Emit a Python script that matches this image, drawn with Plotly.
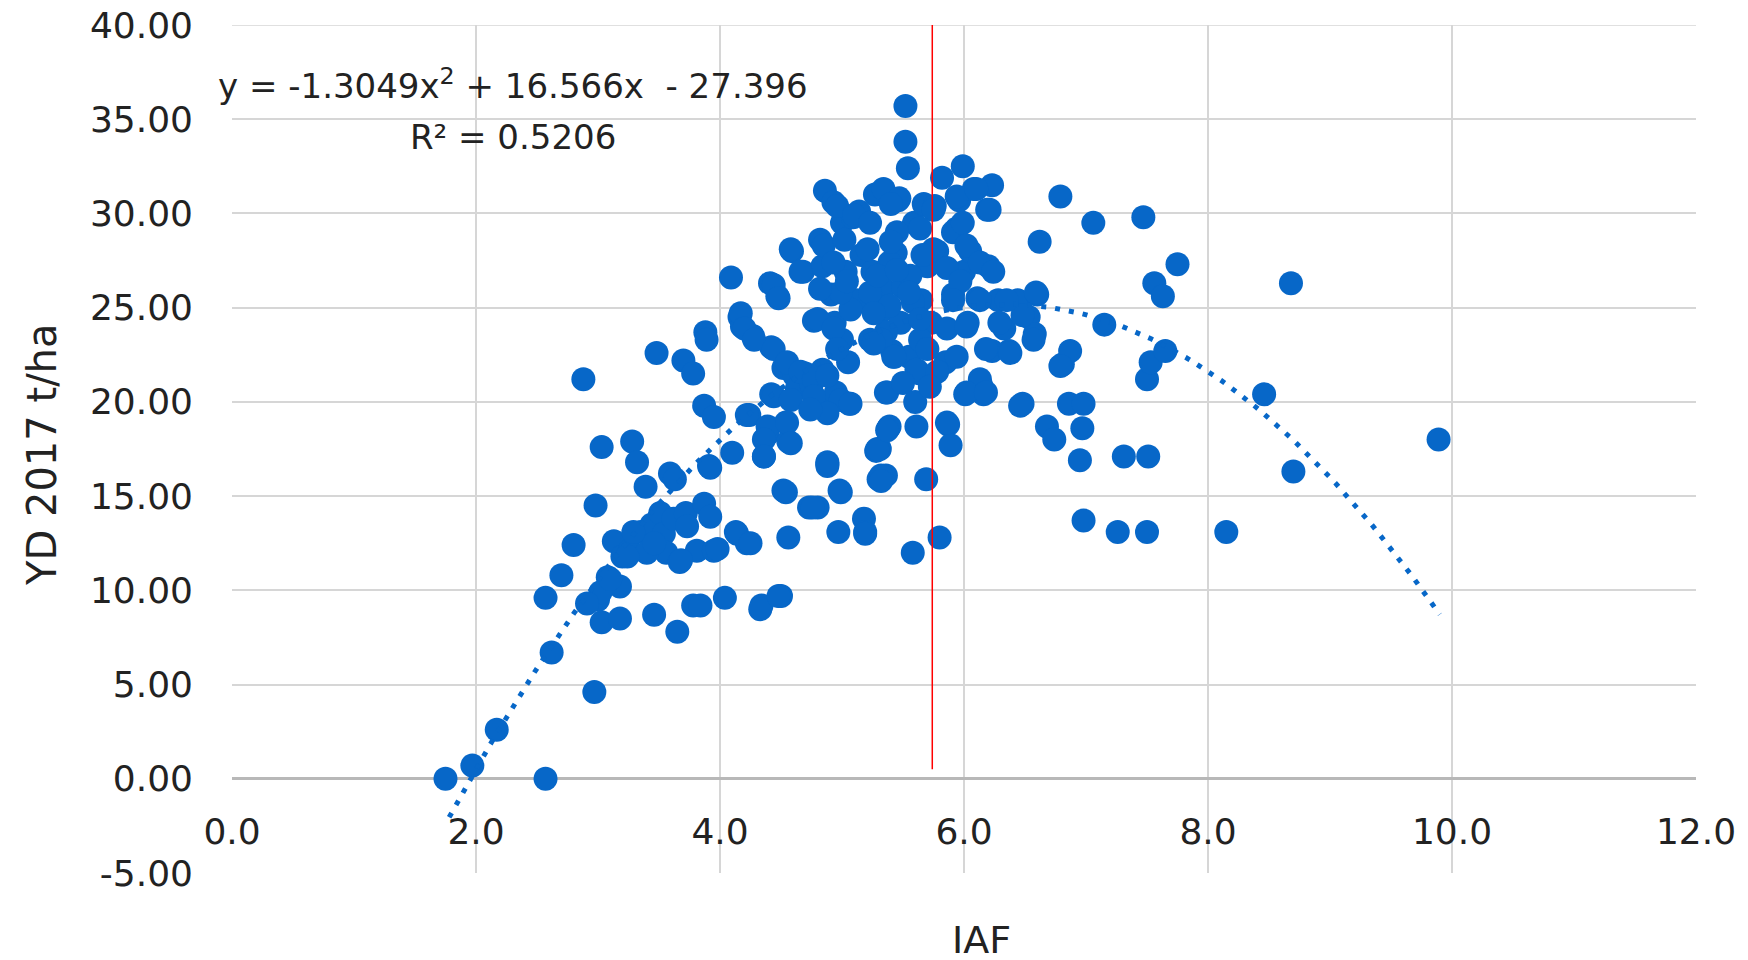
import numpy as np
import plotly.graph_objects as go

# ---- data ----
iaf = [
    1.75, 1.97, 2.17, 2.57, 2.62, 2.57, 2.70, 2.80, 2.88, 2.97, 2.98, 3.03, 3.00, 3.03, 3.08, 3.13, 3.18, 3.18, 3.20, 3.26,
    3.28, 3.32, 3.39, 3.35, 3.44, 3.48, 3.46, 3.51, 3.54, 3.56, 3.59, 3.63, 3.62, 3.65, 3.67, 3.70, 3.72, 3.78, 3.78, 3.81,
    3.84, 3.87, 3.88, 3.87, 3.92, 3.91, 3.95, 3.95, 3.98, 3.40, 3.24, 3.46, 3.68, 3.02, 2.91, 3.10, 3.29, 3.73, 3.92, 3.89,
    4.04, 4.09, 4.10, 4.13, 4.16, 4.18, 4.22, 4.24, 4.27, 4.34, 4.36, 4.39, 4.41, 4.42, 4.42, 4.47, 4.50, 4.52, 4.52, 4.54,
    4.56, 4.56, 4.59, 4.61, 4.63, 4.68, 4.70, 4.73, 4.75, 4.77, 4.79, 4.80, 4.82, 4.84, 4.84, 4.86, 4.86, 4.88, 4.91, 4.93,
    4.94, 4.95, 4.97, 4.98, 5.00, 5.00, 5.03, 5.05, 5.06, 5.09, 5.12, 5.14, 5.16, 5.18, 5.19, 5.23, 5.25, 5.27, 5.28, 5.30,
    5.32, 5.34, 5.37, 5.38, 5.41, 5.44, 5.46, 5.48, 5.50, 5.52, 5.52, 5.54, 5.55, 5.58, 5.59, 5.61, 5.64, 5.65, 5.67, 5.69,
    5.70, 5.73, 5.76, 5.78, 5.80, 5.82, 5.85, 5.87, 5.89, 5.91, 5.94, 5.96, 5.99, 6.00, 6.01, 6.03, 6.05, 6.08, 6.11, 6.14,
    6.16, 6.19, 6.20, 6.23, 6.23, 6.28, 6.33, 6.37, 6.44, 6.48, 6.53, 6.58, 6.60, 6.62, 6.68, 6.74, 6.79, 6.81, 6.86, 6.87,
    6.95, 6.97, 6.98, 6.98, 7.06, 7.15, 7.26, 7.31, 7.47, 7.50, 7.50, 7.51, 7.53, 7.56, 7.63, 7.65, 7.75, 8.15, 8.46, 8.68,
    8.70, 9.89,
    5.34, 5.47, 5.75, 5.94, 6.10, 6.21, 5.45, 5.64, 5.75, 5.91, 5.99, 6.02, 5.86, 6.13, 6.24, 5.39, 5.56, 5.97, 6.59, 6.48,
    6.57, 6.79, 6.46, 6.13, 6.02, 6.18, 5.36, 5.39, 5.86, 5.31, 5.36, 5.91, 6.13, 6.35, 5.58, 5.39, 5.86, 6.18, 6.38, 5.94,
    5.61, 5.42, 5.64, 5.36, 6.02, 6.29, 4.44, 4.48, 4.17, 4.20, 4.28, 4.44, 4.55, 4.66, 4.77, 4.88, 4.77, 4.44, 4.58, 4.99,
    5.07, 4.88, 4.74, 4.80, 4.93, 4.96, 5.07, 4.99, 4.82, 5.23, 5.26, 5.32, 5.43, 5.26, 4.22, 4.39, 4.55, 4.36, 4.58, 4.36,
    4.88, 5.29, 5.37, 5.32, 4.96, 5.10, 5.23, 5.40, 4.58, 4.85, 5.02, 4.93, 5.21, 5.40, 4.66, 5.04, 5.29, 4.88, 5.32, 4.54,
    4.99, 4.76, 4.14, 4.25, 4.33, 4.48, 5.19, 5.64, 5.55, 5.70, 5.78, 5.50, 5.60, 5.72, 5.45, 5.66,
]
yd_2017 = [
    0.0, 0.7, 2.6, 0.0, 6.7, 9.6, 10.8, 12.4, 21.2, 4.6, 14.5, 17.6, 9.5, 8.3, 10.7, 12.6, 10.2, 8.5, 11.8, 12.1,
    17.9, 16.8, 15.5, 13.1, 13.5, 22.6, 8.7, 14.1, 13.0, 12.0, 16.2, 15.9, 13.8, 7.8, 11.5, 22.2, 14.1, 21.5, 9.2, 12.1,
    9.2, 14.6, 23.7, 19.8, 13.9, 16.6, 19.2, 12.1, 12.2, 12.0, 11.8, 12.5, 11.6, 9.9, 9.3, 10.6, 13.1, 13.4, 16.5, 23.3,
    9.6, 26.6, 17.3, 13.1, 24.5, 24.0, 12.5, 19.3, 23.5, 9.2, 17.1, 18.3, 26.3, 22.9, 20.4, 25.6, 9.7, 15.3, 21.8, 18.9,
    17.9, 12.8, 28.0, 21.4, 20.7, 26.9, 21.5, 14.4, 20.9, 24.3, 19.9, 14.4, 28.6, 27.2, 21.7, 31.2, 19.6, 16.7, 25.7, 30.6,
    24.2, 20.5, 13.1, 15.3, 23.3, 29.5, 26.9, 22.1, 19.9, 29.8, 25.4, 30.1, 27.8, 13.8, 13.1, 23.3, 26.9, 31.0, 17.4, 15.9,
    24.8, 26.0, 20.5, 18.6, 22.7, 27.9, 30.7, 24.2, 26.1, 35.7, 33.8, 32.4, 22.4, 12.0, 29.5, 18.7, 21.5, 25.4, 30.5, 15.9,
    27.2, 24.2, 30.4, 28.0, 12.8, 31.9, 22.1, 18.8, 17.7, 25.7, 29.2, 30.7, 32.5, 26.9, 20.4, 24.2, 28.0, 31.3, 25.5, 20.9,
    20.4, 30.2, 27.2, 31.5, 22.7, 25.4, 23.9, 22.7, 25.4, 19.9, 24.5, 23.6, 25.7, 28.5, 18.7, 18.0, 30.9, 22.0, 19.9, 22.7,
    16.9, 18.6, 19.9, 13.7, 29.5, 24.1, 13.1, 17.1, 29.8, 21.2, 13.1, 17.1, 22.1, 26.3, 25.6, 22.7, 27.3, 13.1, 20.4, 26.3,
    16.3, 18.0,
    31.3, 30.8, 30.2, 30.9, 31.3, 30.2, 29.0, 29.2, 28.1, 29.0, 29.5, 28.3, 27.1, 27.4, 26.9, 27.4, 26.7, 26.4, 25.8, 24.6,
    23.3, 21.9, 19.8, 21.2, 20.5, 20.5, 20.5, 18.7, 18.9, 17.5, 16.1, 25.4, 25.4, 25.4, 25.3, 25.1, 23.9, 22.8, 22.6, 22.4,
    21.7, 22.4, 23.3, 23.7, 24.0, 24.2, 26.2, 25.5, 24.7, 23.9, 23.3, 22.8, 22.1, 21.6, 21.2, 21.4, 20.3, 20.3, 20.1, 20.1,
    19.9, 19.4, 19.6, 24.4, 23.9, 22.8, 24.9, 25.8, 26.0, 25.8, 24.7, 23.3, 22.4, 23.1, 19.3, 18.7, 18.9, 18.0, 17.8, 17.1,
    16.8, 17.5, 18.5, 16.1, 30.4, 29.9, 29.5, 30.5, 28.1, 28.3, 28.6, 27.4, 28.1, 28.5, 26.9, 26.4, 26.7, 16.6, 15.8, 15.2,
    15.2, 14.4, 13.0, 12.5, 9.0, 9.7, 13.0, 24.4, 25.8, 22.8, 21.6, 21.0, 20.0, 20.8, 27.0, 27.8,
]

# polynomial trendline as printed on the chart
trend_coef = [-1.3049, 16.566, -27.396]
trend_x_range = [1.78, 9.9]
equation_text = "y = -1.3049x<sup>2</sup> + 16.566x  - 27.396"
r2_text = "R² = 0.5206"

# vertical reference line
ref_x = 5.74
ref_y_range = [0.5, 40]

x_ticks = [0, 2, 4, 6, 8, 10, 12]
x_ticktext = ["0.0", "2.0", "4.0", "6.0", "8.0", "10.0", "12.0"]
y_ticks = [-5, 0, 5, 10, 15, 20, 25, 30, 35, 40]
y_ticktext = ["-5.00", "0.00", "5.00", "10.00", "15.00", "20.00", "25.00", "30.00", "35.00", "40.00"]

BLUE = "#0767C8"
FONT = "DejaVu Sans"
TXT = "#222222"
GRID = "#d6d6d6"

tx = np.linspace(trend_x_range[0], trend_x_range[1], 200)
ty = np.polyval(trend_coef, tx)

fig = go.Figure()
fig.add_trace(go.Scatter(
    x=iaf, y=yd_2017, mode="markers",
    marker=dict(size=24, color=BLUE, line=dict(width=0)),
    showlegend=False, cliponaxis=False,
))
fig.add_trace(go.Scatter(
    x=tx, y=ty, mode="lines",
    line=dict(color=BLUE, width=5, dash="5px,9px"),
    showlegend=False,
))
fig.add_trace(go.Scatter(
    x=[ref_x, ref_x], y=ref_y_range, mode="lines",
    line=dict(color="#FF0000", width=1.5),
    showlegend=False,
))

# page body has an 8px offset; margins are expressed in figure pixels
OFF = 8
W, H = 1748, 960
L, T = 232 - OFF, 25 - OFF
R = W - (1696 - OFF)
B = H - (873 - OFF)
plot_w = W - L - R
plot_h = H - T - B


def px_x(v):
    return (v - OFF - L) / plot_w


def px_y(v):
    return 1 - (v - OFF - T) / plot_h


fig.update_layout(
    width=W, height=H,
    margin=dict(l=L, r=R, t=T, b=B),
    paper_bgcolor="white", plot_bgcolor="white",
    font=dict(family=FONT, size=28, color=TXT),
    xaxis=dict(
        range=[0, 12], tickvals=x_ticks, ticktext=x_ticktext,
        showgrid=True, gridcolor=GRID, gridwidth=1.5,
        zeroline=False, showline=False, automargin=False,
        anchor="free", position=5 / 45,
        ticks="", ticklabelstandoff=28, ticklabeloverflow="allow",
        tickfont=dict(family=FONT, size=36, color=TXT),
    ),
    yaxis=dict(
        range=[-5, 40], tickvals=y_ticks, ticktext=y_ticktext,
        showgrid=True, gridcolor=GRID, gridwidth=1.5,
        zeroline=True, zerolinecolor="#b8b8b8", zerolinewidth=2.5,
        showline=False, ticks="", ticklabelstandoff=38, automargin=False,
        ticklabeloverflow="allow",
        tickfont=dict(family=FONT, size=36, color=TXT),
    ),
    shapes=[
        # top edge of the plot area (gridline at 40)
        dict(type="line", xref="x", yref="y", x0=0, x1=12, y0=40, y1=40,
             line=dict(color=GRID, width=1.5), layer="below"),
    ],
    annotations=[
        dict(text=equation_text, x=px_x(513), y=px_y(84), xref="paper", yref="paper",
             xanchor="center", yanchor="middle", showarrow=False,
             font=dict(family=FONT, size=34, color=TXT)),
        dict(text=r2_text, x=px_x(513), y=px_y(137), xref="paper", yref="paper",
             xanchor="center", yanchor="middle", showarrow=False,
             font=dict(family=FONT, size=34, color=TXT)),
        dict(text="IAF", x=px_x(981), y=px_y(940), xref="paper", yref="paper",
             xanchor="center", yanchor="middle", showarrow=False,
             font=dict(family=FONT, size=38, color=TXT)),
        dict(text="YD 2017 t/ha", x=px_x(42), y=px_y(455), xref="paper", yref="paper",
             xanchor="center", yanchor="middle", textangle=-90, showarrow=False,
             font=dict(family=FONT, size=40, color=TXT)),
    ],
)

fig.write_html("out.html")
